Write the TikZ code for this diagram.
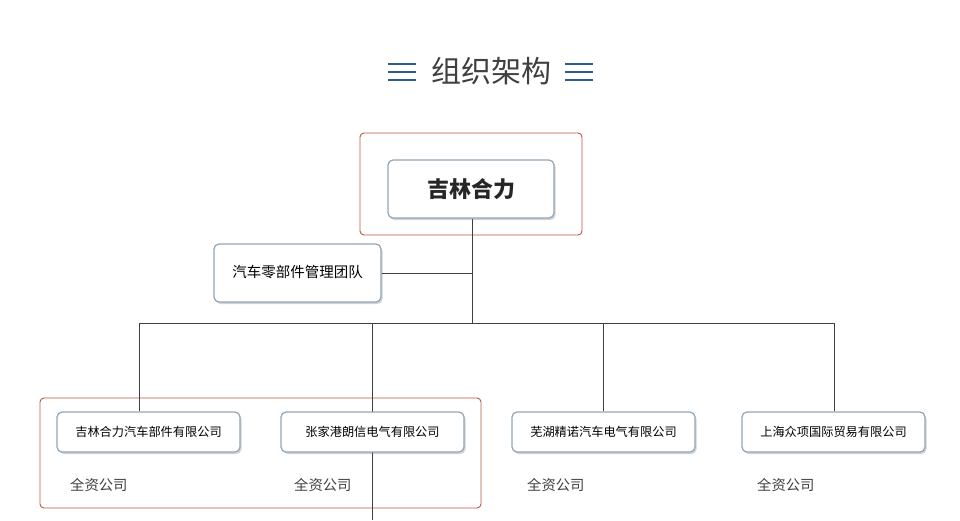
\documentclass[tikz,border=0pt]{standalone}
\usepackage{fontspec}
\newfontfamily\cjk{Noto Sans CJK SC}
\usetikzlibrary{shadows}
\definecolor{redb}{HTML}{B9573F}
\definecolor{boxb}{HTML}{8FA6B8}
\definecolor{iconb}{HTML}{2F5D8A}
\tikzset{
 org/.style={draw=boxb,line width=1.2pt,rounded corners=5pt,fill=white,drop shadow={shadow xshift=1.5pt,shadow yshift=-2pt,opacity=0.35},font=\cjk\fontsize{12.2}{14}\selectfont,inner sep=0pt},
 frame/.style={draw=redb,line width=0.9pt,rounded corners=4pt},
 link/.style={draw=black!75,line width=0.7pt},
 lab/.style={font=\cjk\fontsize{14.3}{16}\selectfont,text=black!75,anchor=west,inner sep=0pt},
 bar/.style={line width=2.6pt,iconb}
}
\begin{document}
\begin{tikzpicture}[x=1pt,y=-1pt]
\useasboundingbox[fill=white] (0,0) rectangle (960,520);
\node[font=\cjk\fontsize{30}{33}\selectfont,text=black!75] (title) at (491,71) {组织架构};
\foreach \x in {388,565}{\foreach \y in {64,72,80}{\draw[bar] (\x,\y) -- (\x+28,\y);}}
\draw[frame] (360,133) rectangle (582,235);
\draw[frame] (40,398) rectangle (481,508);
\node[org,minimum width=166pt,minimum height=58pt,font=\cjk\bfseries\fontsize{22}{24}\selectfont,text=black!85] (top) at (471,189) {\raisebox{-3pt}{吉林合力}};
\node[org,minimum width=167pt,minimum height=58pt,font=\cjk\fontsize{14.5}{16}\selectfont] (team) at (297.5,273) {\raisebox{4pt}{汽车零部件管理团队}};
\coordinate (bus) at (472,323);
\coordinate (bl) at (139,323);
\coordinate (br) at (834,323);
\coordinate (c2top) at (372,323);
\coordinate (c2bot) at (372,520);
\coordinate (tj) at (472,273);
\draw[link] (top.south -| bus) -- (bus);
\draw[link] (team.east) -- (tj);
\draw[link] (bl) -- (br);
\draw[link] (c2top) -- (c2bot);
\node[org,minimum width=183pt,minimum height=40pt] (c1) at (148.5,432) {\raisebox{-2pt}{吉林合力汽车部件有限公司}};
\node[org,minimum width=183pt,minimum height=40pt] (c2) at (372.5,432) {\raisebox{-2pt}{张家港朗信电气有限公司}};
\node[org,minimum width=183pt,minimum height=40pt] (c3) at (603.5,432) {\raisebox{-2pt}{芜湖精诺汽车电气有限公司}};
\node[org,minimum width=183pt,minimum height=40pt] (c4) at (833.5,432) {\raisebox{-2pt}{上海众项国际贸易有限公司}};
\draw[link] (bl) -- (c1.north -| bl);
\draw[link] (603,323) coordinate (b3) -- (c3.north -| b3);
\draw[link] (br) -- (c4.north -| br);
\draw[link] (c2.south -| c2top) -- (c2bot);
\node[lab] (l1) at (70,485) {全资公司};
\node[lab] (l2) at (294,485) {全资公司};
\node[lab] (l3) at (527,485) {全资公司};
\node[lab] (l4) at (757,485) {全资公司};
\end{tikzpicture}
\end{document}
